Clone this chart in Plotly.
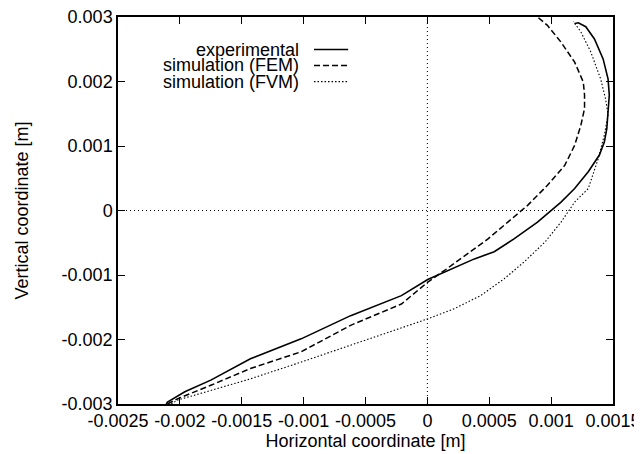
import plotly.graph_objects as go

# Experimental profile (solid)
exp_x = [-0.00211, -0.00210, -0.00196, -0.00175, -0.00143, -0.00102, -0.00062, -0.00021,
         0.000003, 0.00022, 0.00038, 0.00054, 0.00070, 0.00089, 0.00108, 0.00119, 0.00130,
         0.00139, 0.00143, 0.00145, 0.00146, 0.00147, 0.00146, 0.00142, 0.00135, 0.00128,
         0.00122, 0.00119]
exp_y = [-0.00300, -0.00297, -0.00281, -0.00263, -0.00230, -0.00199, -0.00163, -0.00132,
         -0.00107, -0.00088, -0.00075, -0.00064, -0.00044, -0.00018, 0.00013, 0.00034, 0.00060,
         0.00086, 0.00106, 0.00127, 0.00153, 0.00179, 0.00204, 0.00235, 0.00266, 0.00285,
         0.00291, 0.00290]

# Simulation FEM (dashed)
fem_x = [-0.00210, -0.00202, -0.00175, -0.00143, -0.00102, -0.00062, -0.00021, 0.000003,
         0.00016, 0.00035, 0.00049, 0.00065, 0.00081, 0.00097, 0.00111, 0.00119, 0.00124,
         0.00127, 0.00127, 0.00126, 0.00119, 0.00108, 0.00097, 0.00089]
fem_y = [-0.00300, -0.00292, -0.00271, -0.00245, -0.00219, -0.00178, -0.00145, -0.00111,
         -0.00090, -0.00064, -0.00044, -0.00018, 0.00008, 0.00039, 0.00070, 0.00101, 0.00132,
         0.00158, 0.00179, 0.00199, 0.00230, 0.00261, 0.00287, 0.00300]

# Simulation FVM (dotted)
fvm_x = [-0.00207, -0.00202, -0.00175, -0.00143, -0.00102, -0.00062, -0.00021, 0.000003,
         0.00022, 0.00043, 0.00062, 0.00078, 0.00095, 0.00108, 0.00119, 0.00130, 0.00138,
         0.00143, 0.00146, 0.00144, 0.00140, 0.00132, 0.00124, 0.00118]
fvm_y = [-0.00300, -0.00294, -0.00279, -0.00261, -0.00235, -0.00209, -0.00183, -0.00168,
         -0.00152, -0.00132, -0.00106, -0.00080, -0.00049, -0.00018, 0.00013, 0.00034, 0.00080,
         0.00117, 0.00148, 0.00173, 0.00204, 0.00246, 0.00277, 0.00293]

series_names = ["experimental", "simulation (FEM)", "simulation (FVM)"]

x_ticks = [-0.0025, -0.002, -0.0015, -0.001, -0.0005, 0, 0.0005, 0.001, 0.0015]
x_tick_text = ["-0.0025", "-0.002", "-0.0015", "-0.001", "-0.0005", "0", "0.0005", "0.001", "0.0015"]
y_ticks = [-0.003, -0.002, -0.001, 0, 0.001, 0.002, 0.003]
y_tick_text = ["-0.003", "-0.002", "-0.001", "0", "0.001", "0.002", "0.003"]

FONT = "Liberation Sans, Arial, Helvetica, sans-serif"
FS = 18

fig = go.Figure()
fig.add_trace(go.Scatter(x=exp_x, y=exp_y, mode="lines", name=series_names[0],
                         line=dict(color="black", width=1.6, dash="solid")))
fig.add_trace(go.Scatter(x=fem_x, y=fem_y, mode="lines", name=series_names[1],
                         line=dict(color="black", width=1.5, dash="6px,3px")))
fig.add_trace(go.Scatter(x=fvm_x, y=fvm_y, mode="lines", name=series_names[2],
                         line=dict(color="black", width=1.1, dash="1.5px,2px")))

# zero axes (dotted)
fig.add_shape(type="line", xref="x", yref="paper", x0=0, x1=0, y0=0, y1=1,
              line=dict(color="black", width=1, dash="1px,3px"), layer="below")
fig.add_shape(type="line", xref="paper", yref="y", x0=0, x1=1, y0=0, y1=0,
              line=dict(color="black", width=1, dash="1px,3px"), layer="below")

# gnuplot-style legend: text then sample
leg_rows = [0.916, 0.875, 0.833]
leg_dash = ["solid", "6px,3px", "1.5px,2px"]
leg_w = [1.6, 1.5, 1.1]
for name, yy, d, w in zip(series_names, leg_rows, leg_dash, leg_w):
    fig.add_annotation(xref="paper", yref="paper", x=0.370, y=yy, text=name,
                       showarrow=False, xanchor="right", yanchor="middle",
                       font=dict(family=FONT, size=FS, color="black"))
    fig.add_shape(type="line", xref="paper", yref="paper", x0=0.396, x1=0.465,
                  y0=yy, y1=yy, line=dict(color="black", width=w, dash=d))

axis_common = dict(showgrid=False, zeroline=False, showline=True, linecolor="black",
                   linewidth=1.5, mirror="allticks", ticks="inside", ticklen=7,
                   tickcolor="black", tickwidth=1.3, automargin=False,
                   ticklabeloverflow="allow",
                   tickfont=dict(family=FONT, size=FS, color="black"))

fig.update_layout(
    width=642, height=454,
    margin=dict(l=110, r=37, t=9, b=58),
    paper_bgcolor="white", plot_bgcolor="white",
    showlegend=False,
    xaxis=dict(range=[-0.0025, 0.0015], tickvals=x_ticks, ticktext=x_tick_text,
               title=dict(text="Horizontal coordinate [m]", standoff=0,
                          font=dict(family=FONT, size=FS, color="black")),
               **axis_common),
    yaxis=dict(range=[-0.003, 0.003], tickvals=y_ticks, ticktext=y_tick_text,
               title=dict(text="Vertical coordinate [m]", standoff=28,
                          font=dict(family=FONT, size=FS, color="black")),
               **axis_common),
)

fig.write_html("out.html")
